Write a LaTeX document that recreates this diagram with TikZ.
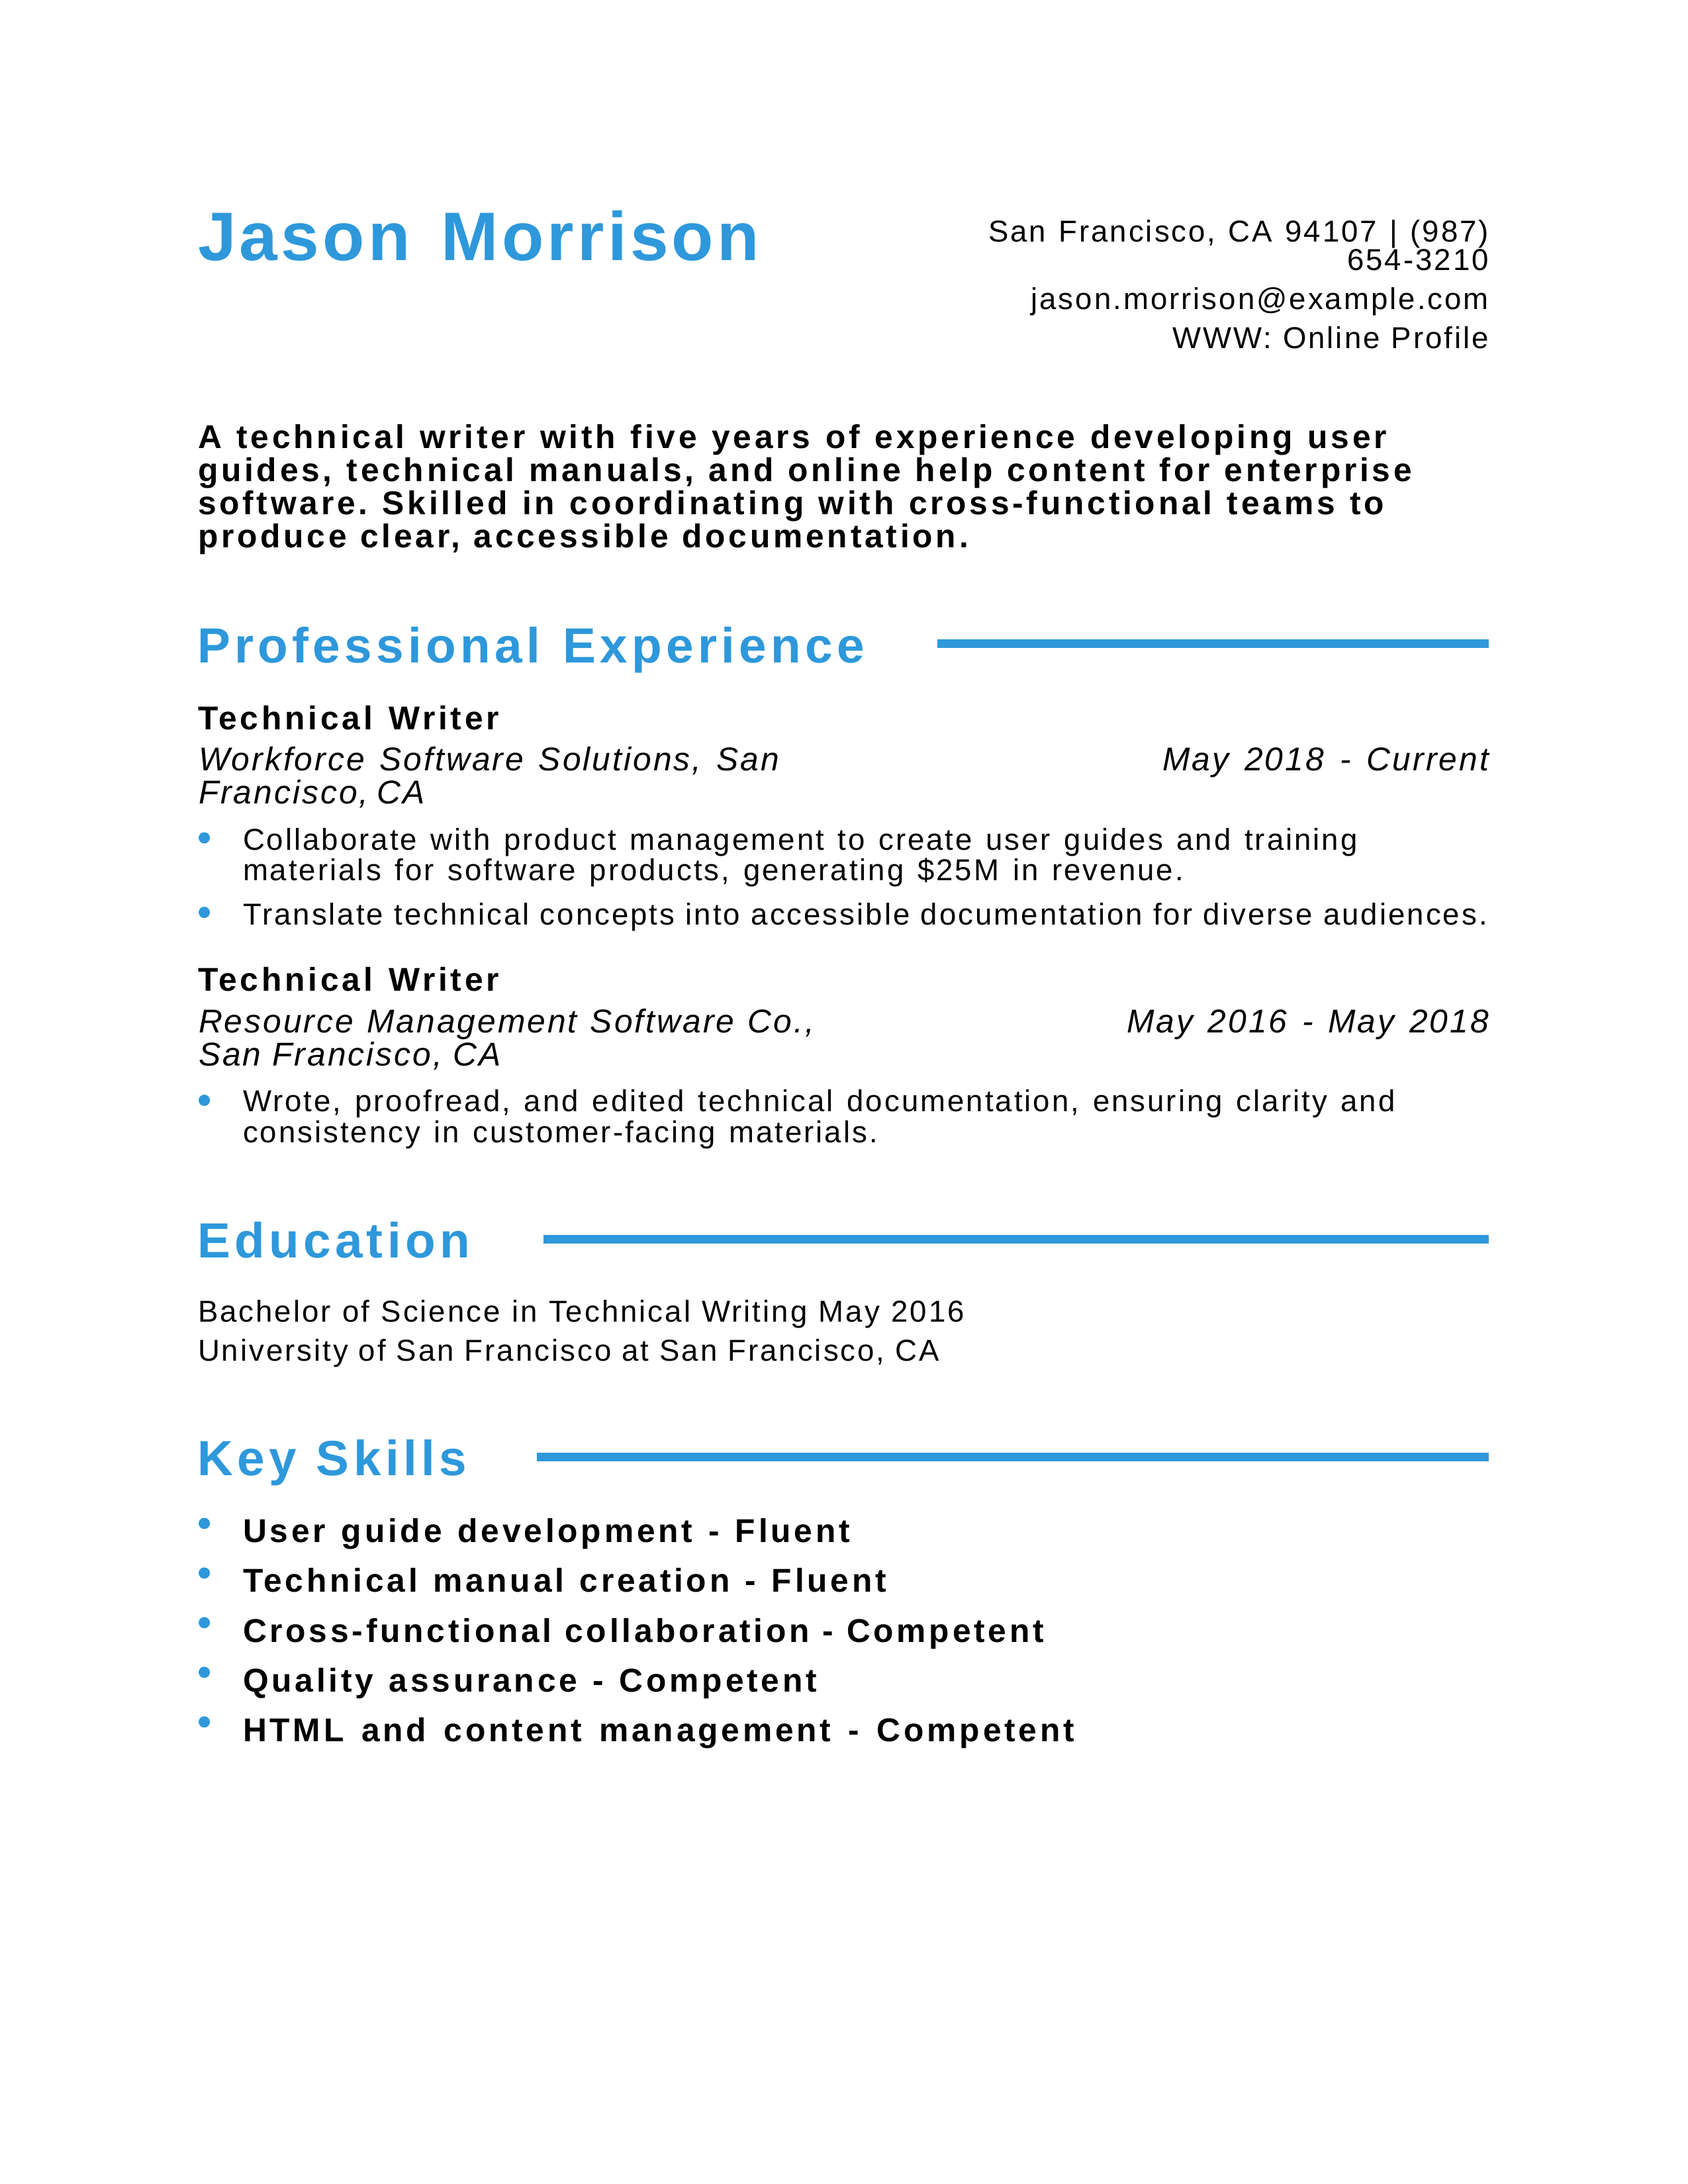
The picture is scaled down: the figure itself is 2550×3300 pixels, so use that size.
\documentclass[tikz,border=0pt]{standalone}
\usepackage{fontspec}
\setmainfont{Liberation Sans}
\newfontfamily\nameF{Liberation Sans}[LetterSpace=5]
\newfontfamily\headF{Liberation Sans}[LetterSpace=8.5]
\newfontfamily\boldF{Liberation Sans}[LetterSpace=9.5]
\newfontfamily\bodyF{Liberation Sans}[LetterSpace=6.5]
\newfontfamily\itF{Liberation Sans}[LetterSpace=6]
\definecolor{accent}{RGB}{46,152,219}
\newlength\pxu
\setlength\pxu{0.2409pt}
\newcommand\wsp[1]{\frenchspacing\spaceskip=#1 plus 30pt minus 0.8pt\relax}
\newcommand\fitw[2]{\makebox[#1\pxu][s]{#2}}
\tikzset{
  every node/.style={inner sep=0pt, outer sep=0pt},
  fullname/.style={anchor=base west, text=accent, font=\nameF\bfseries\fontsize{25}{25}\selectfont, execute at begin node={\wsp{7pt}}},
  contact/.style={anchor=base east, font=\bodyF\fontsize{11}{11}\selectfont, execute at begin node={\wsp{3.2pt}}},
  summary/.style={anchor=base west, font=\boldF\bfseries\fontsize{12}{12}\selectfont, execute at begin node={\wsp{3.3pt}}},
  sechead/.style={anchor=base west, text=accent, font=\headF\bfseries\fontsize{18}{18}\selectfont, execute at begin node={\wsp{5pt}}},
  jobtitle/.style={anchor=base west, font=\boldF\bfseries\fontsize{12}{12}\selectfont, execute at begin node={\wsp{3.3pt}}},
  employer/.style={anchor=base west, font=\itF\itshape\fontsize{12}{12}\selectfont, execute at begin node={\wsp{3.3pt}}},
  jobdate/.style={anchor=base east, font=\itF\itshape\fontsize{12}{12}\selectfont, execute at begin node={\wsp{3.3pt}}},
  bodytext/.style={anchor=base west, font=\bodyF\fontsize{11}{11}\selectfont, execute at begin node={\wsp{3.2pt}}},
  skill/.style={anchor=base west, font=\boldF\bfseries\fontsize{12}{12}\selectfont, execute at begin node={\wsp{3.3pt}}},
  bulletdot/.style={circle, fill=accent, minimum size=4.1pt, inner sep=0pt},
  secrule/.style={draw=accent, line width=3.2pt}
}
\begin{document}
\begin{tikzpicture}[x=0.2409pt, y=-0.2409pt]
\fill[white] (0,0) rectangle (2550,3300);
\useasboundingbox (0,0) rectangle (2550,3300);

% header
\node[fullname] (nm) at (299,393.6) {\fitw{848}{Jason Morrison}};
\node[contact] (c1) at (2249,365.7) {\fitw{756}{San Francisco, CA 94107 | (987)}};
\node[contact] (c2) at (2249,408.6) {654-3210};
\node[contact] (c3) at (2249,467.5) {jason.morrison@example.com};
\node[contact] (c4) at (2249,526.4) {\fitw{478}{WWW: Online Profile}};

% summary
\node[summary] (s1) at (299,677.5) {\fitw{1796}{A technical writer with five years of experience developing user}};
\node[summary] (s2) at (299,727.5) {\fitw{1834}{guides, technical manuals, and online help content for enterprise}};
\node[summary] (s3) at (299,777.5) {\fitw{1792}{software. Skilled in coordinating with cross-functional teams to}};
\node[summary] (s4) at (299,827.5) {\fitw{1164}{produce clear, accessible documentation.}};

% professional experience
\node[sechead] (hexp) at (298,1001) {\fitw{1008}{Professional Experience}};
\coordinate (rexpA) at (1416,972.6);
\coordinate (rexpB) at (2249,972.6);
\draw[secrule] (rexpA) -- (rexpB);

\node[jobtitle] (j1) at (299,1102.5) {\fitw{455}{Technical Writer}};
\node[employer] (e1a) at (300,1164.3) {\fitw{877}{Workforce Software Solutions, San}};
\node[employer] (e1b) at (300,1214.3) {\fitw{342}{Francisco, CA}};
\node[jobdate] (d1) at (2249,1164.3) {\fitw{493}{May 2018 - Current}};
\node[bulletdot] (b1) at (308.6,1266) {};
\node[bodytext] (t1a) at (367,1284.6) {\fitw{1684}{Collaborate with product management to create user guides and training}};
\node[bodytext] (t1b) at (367,1330.4) {\fitw{1421}{materials for software products, generating \$25M in revenue.}};
\node[bulletdot] (b2) at (308.6,1378.6) {};
\node[bodytext] (t2) at (367,1397) {\fitw{1880}{Translate technical concepts into accessible documentation for diverse audiences.}};

\node[jobtitle] (j2) at (299,1497.5) {\fitw{455}{Technical Writer}};
\node[employer] (e2a) at (300,1560) {\fitw{930}{Resource Management Software Co.,}};
\node[employer] (e2b) at (300,1610) {\fitw{457}{San Francisco, CA}};
\node[jobdate] (d2) at (2249,1560) {\fitw{547}{May 2016 - May 2018}};
\node[bulletdot] (b3) at (308.6,1662.5) {};
\node[bodytext] (t3a) at (367,1679.6) {\fitw{1741}{Wrote, proofread, and edited technical documentation, ensuring clarity and}};
\node[bodytext] (t3b) at (367,1726) {\fitw{959}{consistency in customer-facing materials.}};

% education
\node[sechead] (hedu) at (298,1900.4) {Education};
\coordinate (reduA) at (821,1872.5);
\coordinate (reduB) at (2249,1872.5);
\draw[secrule] (reduA) -- (reduB);
\node[bodytext] (ed1) at (299,1997.5) {\fitw{1158}{Bachelor of Science in Technical Writing May 2016}};
\node[bodytext] (ed2) at (299,2056) {\fitw{1120}{University of San Francisco at San Francisco, CA}};

% key skills
\node[sechead] (hsk) at (298,2229) {\fitw{407}{Key Skills}};
\coordinate (rskA) at (811,2201.5);
\coordinate (rskB) at (2249,2201.5);
\draw[secrule] (rskA) -- (rskB);

\node[bulletdot] (kd1) at (308.6,2301.8) {};
\node[skill] (k1) at (367,2330.4) {\fitw{917}{User guide development - Fluent}};
\node[bulletdot] (kd2) at (308.6,2376.8) {};
\node[skill] (k2) at (367,2405.4) {\fitw{972}{Technical manual creation - Fluent}};
\node[bulletdot] (kd3) at (308.6,2451.8) {};
\node[skill] (k3) at (367,2481.4) {\fitw{1210}{Cross-functional collaboration - Competent}};
\node[bulletdot] (kd4) at (308.6,2526.8) {};
\node[skill] (k4) at (367,2556.4) {\fitw{867}{Quality assurance - Competent}};
\node[bulletdot] (kd5) at (308.6,2601.8) {};
\node[skill] (k5) at (367,2631.4) {\fitw{1256}{HTML and content management - Competent}};
\end{tikzpicture}
\end{document}
